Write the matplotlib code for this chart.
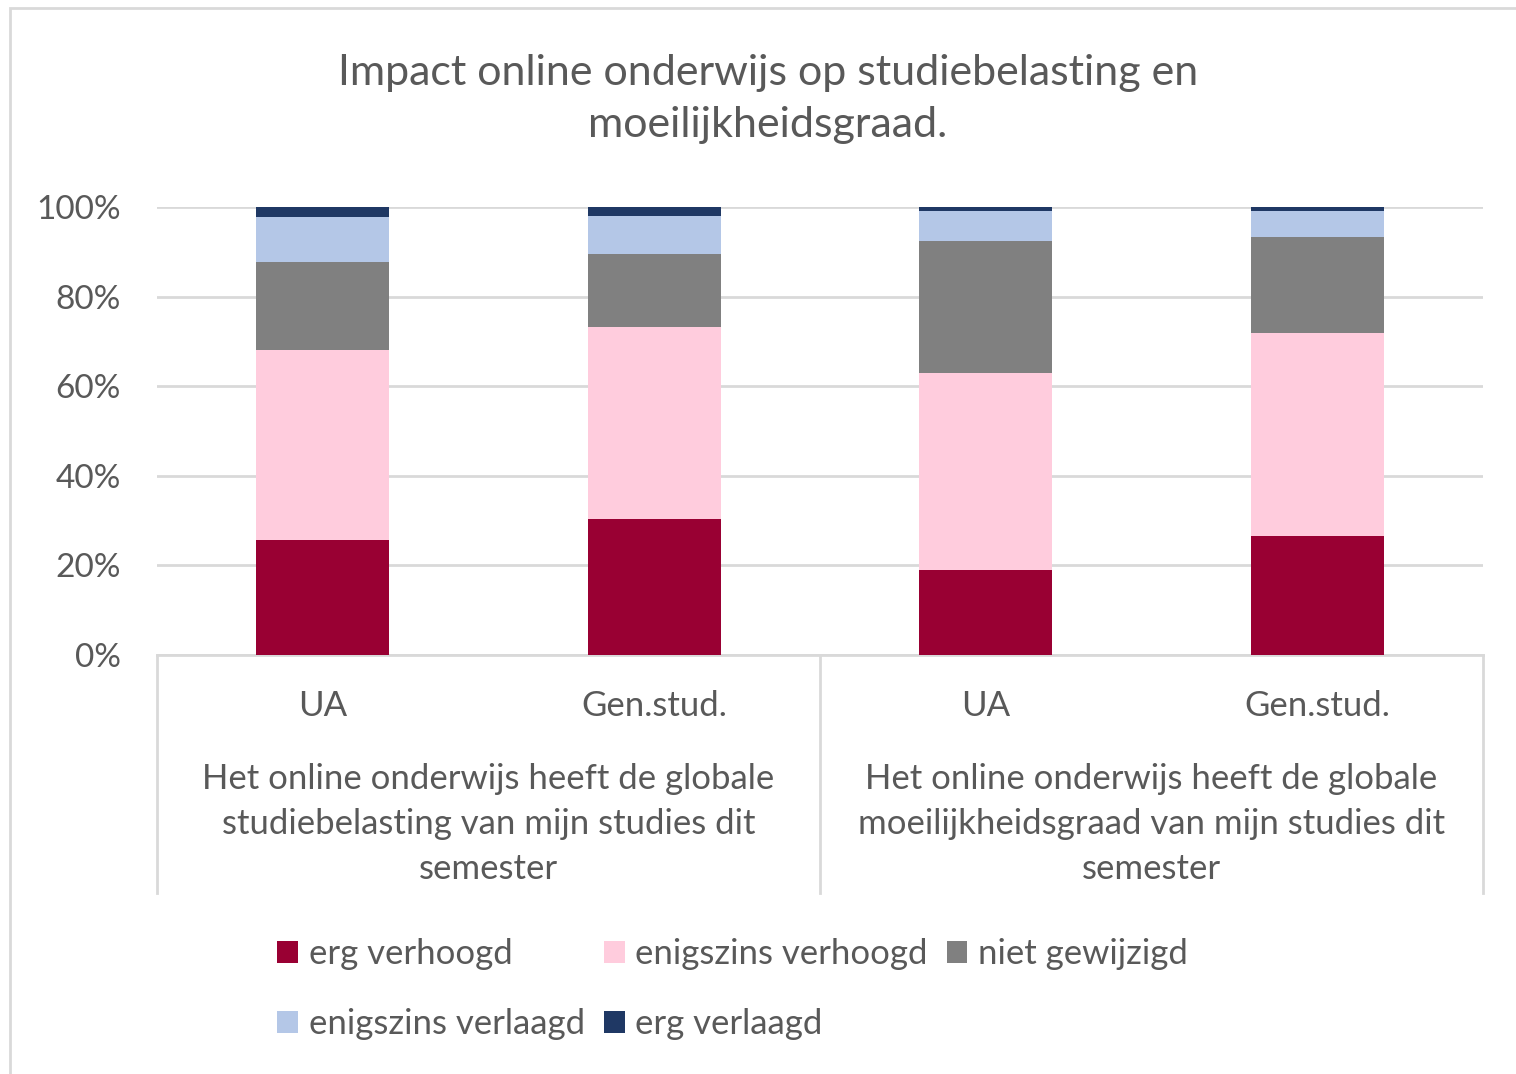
import matplotlib.pyplot as plt
import numpy as np
from matplotlib.patches import Rectangle

plt.rcParams["font.family"] = ["Lato", "DejaVu Sans"]

# bar labels and groups
bar_labels = ["UA", "Gen.stud.", "UA", "Gen.stud."]
group_labels = [
    "Het online onderwijs heeft de globale\nstudiebelasting van mijn studies dit\nsemester",
    "Het online onderwijs heeft de globale\nmoeilijkheidsgraad van mijn studies dit\nsemester",
]

# percentage per answer, one value per bar
erg_verhoogd = [25.7, 30.4, 19.0, 26.6]
enigszins_verhoogd = [42.3, 42.8, 43.9, 45.3]
niet_gewijzigd = [19.8, 16.4, 29.6, 21.5]
enigszins_verlaagd = [9.9, 8.5, 6.7, 5.8]
erg_verlaagd = [2.3, 1.9, 0.8, 0.8]

series = [
    ("erg verhoogd", erg_verhoogd, "#990033"),
    ("enigszins verhoogd", enigszins_verhoogd, "#FFCCDD"),
    ("niet gewijzigd", niet_gewijzigd, "#808080"),
    ("enigszins verlaagd", enigszins_verlaagd, "#B4C7E7"),
    ("erg verlaagd", erg_verlaagd, "#1F3864"),
]

TEXT = "#595959"
GRID = "#D9D9D9"
FS = 25

fig = plt.figure(figsize=(15.16, 10.74), dpi=100)
ax = fig.add_axes([157 / 1516, 1 - 655 / 1074, 1326 / 1516, 448 / 1074])

x = np.arange(len(bar_labels))
bottom = np.zeros(len(bar_labels))
handles = []
for name, vals, color in series:
    vals = np.array(vals) / 100
    h = ax.bar(x, vals, width=0.4, bottom=bottom, color=color, label=name, zorder=3)
    handles.append(h)
    bottom += vals

ax.set_xlim(-0.5, len(bar_labels) - 0.5)
ax.set_ylim(0, 1)
ax.set_yticks(np.linspace(0, 1, 6))
ax.set_yticklabels([f"{int(round(v * 100))}%" for v in np.linspace(0, 1, 6)])
ax.grid(axis="y", color=GRID, linewidth=2, zorder=0)
ax.tick_params(axis="y", length=0, pad=26, labelsize=24, labelcolor=TEXT)
ax.set_xticks(x)
ax.set_xticklabels(bar_labels)
ax.tick_params(axis="x", length=0, pad=25, labelsize=FS, labelcolor=TEXT)
for side in ["top", "right", "left"]:
    ax.spines[side].set_visible(False)
ax.spines["bottom"].set_color(GRID)
ax.spines["bottom"].set_linewidth(2)

# group separators and group labels below the axis
xt = ax.get_xaxis_transform()
for sx in [-0.5, 1.5, 3.5]:
    ax.plot([sx, sx], [0, -0.531], color=GRID, linewidth=2, transform=xt, clip_on=False)
for i, lab in enumerate(group_labels):
    ax.text(2 * i + 0.5, -0.377, lab, transform=xt, ha="center", va="center",
            fontsize=FS, color=TEXT, linespacing=1.5)

fig.text(768 / 1516, 1 - 99 / 1074,
         "Impact online onderwijs op studiebelasting en\nmoeilijkheidsgraad.",
         ha="center", va="center", fontsize=31, color=TEXT, linespacing=1.45)

# legend laid out row by row like the original
order = [0, 3, 1, 4, 2]
leg = fig.legend([handles[i] for i in order], [series[i][0] for i in order],
                 ncol=3, loc="upper left", bbox_to_anchor=(253 / 1516, 1 - 914 / 1074),
                 frameon=False, fontsize=FS, labelcolor=TEXT, handlelength=0.6,
                 handleheight=0.6, handletextpad=0.3, columnspacing=0.55,
                 labelspacing=1.1, borderpad=0.2)

fig.patches.append(Rectangle((10 / 1516, -0.01), 1.0, 1 - 8 / 1074 + 0.01,
                             transform=fig.transFigure, fill=False,
                             edgecolor=GRID, linewidth=2))

fig.savefig("out.png", dpi=100)
